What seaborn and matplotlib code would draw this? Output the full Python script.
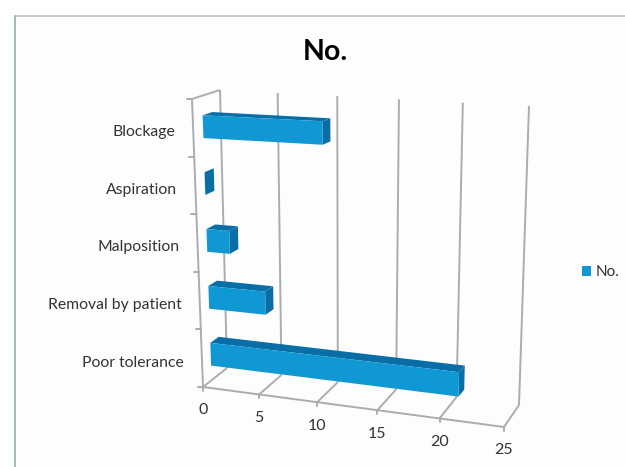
import matplotlib
matplotlib.use("Agg")
import matplotlib.pyplot as plt
import numpy as np
import pandas as pd
import seaborn as sns
from matplotlib.patches import Polygon, Rectangle
from matplotlib.transforms import Transform

categories = ["Blockage", "Aspiration", "Malposition", "Removal by patient", "Poor tolerance"]
counts = [10, 0, 2, 5, 21]
value_ticks = [0, 5, 10, 15, 20, 25]

FRONT_COLOR = "#0f98d4"
DARK_COLOR = "#0a6ea6"
GRID_COLOR = "#a8adb0"
TEXT_COLOR = "#333333"

# pixel corners of the fake 3d box: (value end, top/bottom, front/back)
CORNERS = {
    (0, 0, 0): (192, 99), (0, 1, 0): (203, 387), (1, 1, 0): (504, 427), (1, 0, 0): (513, 112),
    (0, 0, 1): (220, 90), (0, 1, 1): (227, 368), (1, 1, 1): (519, 405), (1, 0, 1): (529, 106),
}
PERSPECTIVE = 1.09
BAR_FRONT, BAR_BACK = 0.36, 0.7
BAR_SHIFT = 2.5


def project(v, c, d, shift=0):
    # trilinear mapping of value / category position / depth to pixels
    u = np.asarray(v, dtype=float) / value_ticks[-1]
    u = u / (u + PERSPECTIVE * (1 - u))
    t = (np.asarray(c, dtype=float) + 0.5) / len(categories)
    d = np.asarray(d, dtype=float)
    x, y = 0, 0
    for (a, b, e), (px, py) in CORNERS.items():
        w = (u if a else 1 - u) * (t if b else 1 - t) * (d if e else 1 - d)
        x, y = x + w * px, y + w * py
    return x, y + shift


class FrontFace(Transform):
    input_dims = output_dims = 2

    def transform_non_affine(self, values):
        values = np.asarray(values)
        x, y = project(values[:, 0], values[:, 1], BAR_FRONT, BAR_SHIFT)
        return np.column_stack([x, y])


def line3d(ax, a, b, lw=1.4):
    xa, ya = project(*a)
    xb, yb = project(*b)
    ax.plot([xa, xb], [ya, yb], color=GRID_COLOR, lw=lw, zorder=1, solid_capstyle="butt")


sns.set_theme(style="white")
plt.rcParams["font.family"] = ["Lato", "DejaVu Sans"]

fig = plt.figure(figsize=(6.25, 4.67), dpi=100, facecolor="white")
ax = fig.add_axes([0, 0, 1, 1])

df = pd.DataFrame({"cause": categories, "No.": counts})
sns.barplot(data=df, y="cause", x="No.", color=FRONT_COLOR, saturation=1, width=0.4,
            linewidth=0, label="No.", legend=False, ax=ax)
bars = list(ax.patches)

face = FrontFace() + ax.transData
for bar in bars:
    bar.set_transform(face)
    bar.set_zorder(3)
    bar.set_clip_on(False)

    # side and top of each bar, taken from what seaborn drew
    v = bar.get_width()
    c0, c1 = bar.get_y(), bar.get_y() + bar.get_height()
    side = [(v, c0, BAR_FRONT), (v, c0, BAR_BACK), (v, c1, BAR_BACK), (v, c1, BAR_FRONT)]
    top = [(0, c0, BAR_FRONT), (0, c0, BAR_BACK), (v, c0, BAR_BACK), (v, c0, BAR_FRONT)]
    for pts in (side, top):
        xy = [tuple(float(p) for p in project(*pt, BAR_SHIFT)) for pt in pts]
        ax.add_patch(Polygon(xy, closed=True, fc=DARK_COLOR, ec="none", zorder=2.5))

ax.set_xlim(0, 625)
ax.set_ylim(467, 0)
ax.axis("off")

# panel
ax.add_patch(Rectangle((15, 15.5), 610, 452, fc="#fdfdfd", ec="none", zorder=0))
ax.plot([15, 625], [15.5, 15.5], color="#c4c2c4", lw=1.2, zorder=0.5)
ax.plot([15, 15], [467, 15.5], color="#9fb2b8", lw=1.3, zorder=0.5)

# walls and floor
top_c, bottom_c = -0.5, len(categories) - 0.5
for v in value_ticks:
    line3d(ax, (v, top_c, 1), (v, bottom_c, 1))
    line3d(ax, (v, bottom_c, 1), (v, bottom_c, 0))
    x, y = project(v, bottom_c, 0)
    ax.plot([x, x], [y, y + 4], color=GRID_COLOR, lw=1.4, zorder=1)
    ax.text(x, y + 23.5, str(v), ha="center", va="center", fontsize=11.5, color=TEXT_COLOR)
line3d(ax, (0, top_c, 0), (0, top_c, 1))
line3d(ax, (0, top_c, 0), (0, bottom_c, 0))
line3d(ax, (value_ticks[0], bottom_c, 0), (value_ticks[-1], bottom_c, 0))

for i in range(len(categories) + 1):
    x, y = project(0, i - 0.5, 0)
    ax.plot([x - 5, x], [y, y], color=GRID_COLOR, lw=1.4, zorder=1)

for i, name in enumerate(categories):
    x, y = project(0, i, 0)
    ax.text(x - 18, y + 4.5, name, ha="right", va="center", fontsize=11.3, color=TEXT_COLOR)

ax.text(325, 52, "No.", ha="center", va="center", fontsize=20.5, fontweight="bold", color="black")

leg = ax.legend([bars[0]], ["No."], loc="center left", bbox_to_anchor=(581.5 / 625, 1 - 272 / 467),
                frameon=False, fontsize=11, handlelength=0.65, handleheight=0.65,
                handletextpad=0.3, borderpad=0, borderaxespad=0, labelcolor=TEXT_COLOR)

fig.savefig("out.png", dpi=100)
